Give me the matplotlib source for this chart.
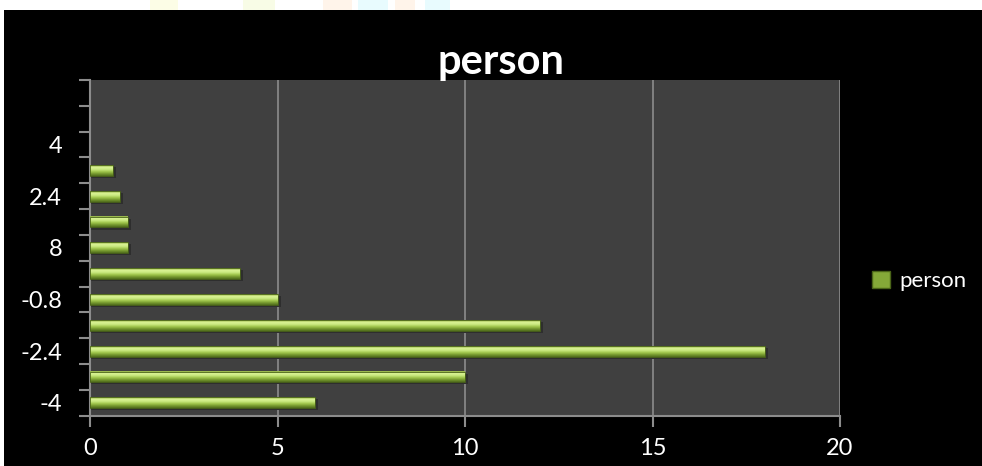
import numpy as np
import matplotlib
matplotlib.use("Agg")
import matplotlib.pyplot as plt
from matplotlib.colors import LinearSegmentedColormap
from matplotlib.patches import Rectangle, Patch

plt.rcParams['font.family'] = ['Lato', 'DejaVu Sans']

# categories (bottom to top) and counts; the top category has no label
categories = ["-4", "-3.2", "-2.4", "-1.6", "-0.8", "0", "8", "1.6",
              "2.4", "3.2", "4", "4.8", ""]
person = [6, 10, 18, 12, 5, 4, 1, 1, 0.8, 0.6, 0, 0, 0]
xticks = [0, 5, 10, 15, 20]

W, H = 982, 466
fig = plt.figure(figsize=(W / 100, H / 100), dpi=100, facecolor="black")

# white strip along the top/left edge with faint coloured blobs
fig.patches.append(Rectangle((0, 1 - 10 / H), 1, 10 / H, transform=fig.transFigure,
                             facecolor="white", edgecolor="none", zorder=0))
fig.patches.append(Rectangle((0, 0), 4 / W, 1, transform=fig.transFigure,
                             facecolor="white", edgecolor="none", zorder=0))
for x0, x1, c in [(150, 178, "#fcfde6"), (243, 275, "#f8fce6"), (323, 352, "#fff4ea"),
                  (358, 388, "#e8fbfe"), (395, 415, "#fff4ea"), (425, 450, "#e8fbfe")]:
    fig.patches.append(Rectangle((x0 / W, 1 - 10 / H), (x1 - x0) / W, 10 / H,
                                 transform=fig.transFigure, facecolor=c,
                                 edgecolor="none", zorder=0.5))

ax = fig.add_axes([90 / W, (H - 415.7) / H, 750 / W, 335.7 / H])
ax.set_facecolor("#404040")

ypos = np.arange(len(categories))
bh = 0.42

# green bars with a vertical shading + thin shadow underneath
cmap = LinearSegmentedColormap.from_list(
    "bar", ["#506c1c", "#76992f", "#a0c64d", "#c8e87e", "#dcf496", "#8bab3c"])
grad = np.linspace(0, 1, 64).reshape(-1, 1)
drawn = [(y, v) for y, v in zip(ypos, person) if v > 0]
for y, v in drawn:
    ax.add_patch(Rectangle((0, y - bh / 2 - 0.08), v + 0.08, bh, facecolor="#2e2e2e",
                           edgecolor="none", zorder=2))
    ax.imshow(grad, cmap=cmap, aspect="auto", origin="lower",
              extent=(0, v, y - bh / 2, y + bh / 2), zorder=3)
ax.barh([y for y, v in drawn], [v for y, v in drawn], height=bh, color="none",
        edgecolor="#4a6418", lw=0.6, zorder=4)

ax.set_xlim(0, 20)
ax.set_ylim(-0.5, len(categories) - 0.5)

ax.set_xticks(xticks)
ax.set_xticklabels([str(t) for t in xticks])
ax.xaxis.grid(True, color="#8c8c8c", lw=1.2)
ax.set_axisbelow(True)

# major y ticks sit between categories, labels on every other category
ax.set_yticks(np.arange(-0.5, len(categories), 1.0))
ax.set_yticklabels([])
ax.set_yticks(ypos, minor=True)
ax.set_yticklabels([c if i % 2 == 0 else "" for i, c in enumerate(categories)], minor=True)

ax.tick_params(axis="y", which="major", length=8, width=1.5, color="#8c8c8c", direction="out")
ax.tick_params(axis="y", which="minor", length=0, pad=20, labelsize=17, labelcolor="white")
ax.tick_params(axis="x", length=8, width=1.5, color="#8c8c8c", direction="out",
               pad=8, labelsize=17, labelcolor="white")

for s in ["top", "right"]:
    ax.spines[s].set_visible(False)
for s in ["left", "bottom"]:
    ax.spines[s].set_color("#8c8c8c")
    ax.spines[s].set_linewidth(1.5)

fig.text(501 / W, 1 - 74 / H, "person", ha="center", va="baseline", color="white",
         fontsize=30, fontweight="bold")

leg = fig.legend(handles=[Patch(facecolor="#84a838", edgecolor="#4a6418", label="person")],
                 loc="center left", bbox_to_anchor=(852 / W, 1 - 281 / H), frameon=False,
                 fontsize=16, labelcolor="white", handlelength=0.8, handleheight=0.8,
                 handletextpad=0.45)

fig.savefig("out.png", dpi=100, facecolor=fig.get_facecolor())
